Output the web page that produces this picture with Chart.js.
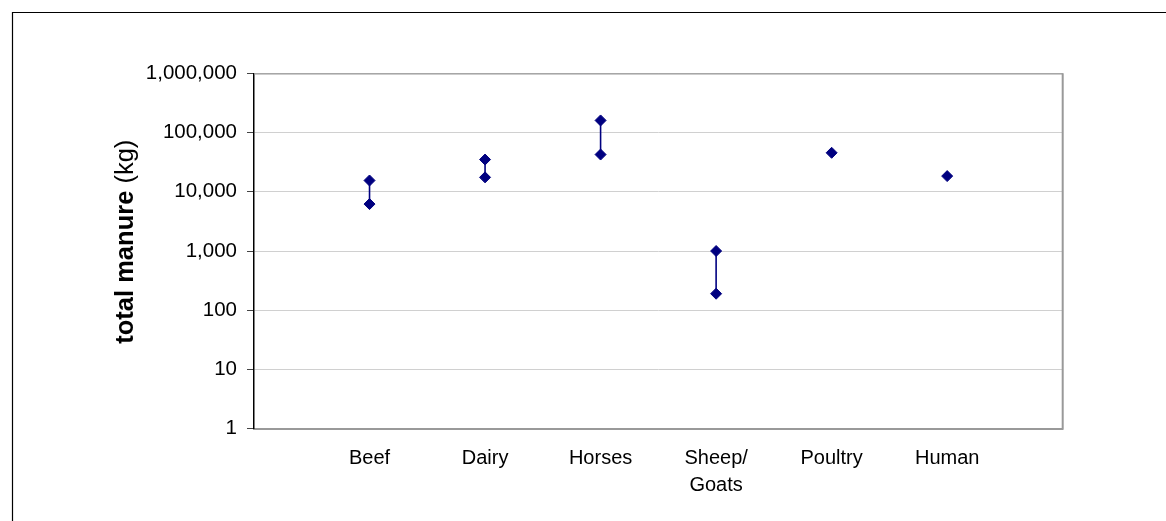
<!DOCTYPE html>
<html>
<head>
<meta charset="utf-8">
<script src="https://cdn.jsdelivr.net/npm/chart.js@4/dist/chart.umd.min.js"></script>
<style>
  html, body { margin: 0; padding: 0; background: #fff; }
  #wrap { width: 1166px; height: 521px; position: relative; }
</style>
</head>
<body>
<div id="wrap"><canvas id="chart"></canvas></div>
<script>
// Manure production per animal type: high and low estimates (kg)
const categories = ['Beef', 'Dairy', 'Horses', 'Sheep/Goats', 'Poultry', 'Human'];
const highValues = [15500, 35000, 160000, 1000, 45500, 18400];
const lowValues  = [6200, 17500, 42500, 190, null, null];
const yTickValues = [1, 10, 100, 1000, 10000, 100000, 1000000];
const yTitleBold = 'total manure ';
const yTitleUnit = '(kg)';

const NAVY = '#000080';
const FONT = '"Liberation Sans", Arial, sans-serif';

Chart.defaults.color = '#000';
Chart.defaults.font.family = FONT;

// Vertical range lines joining each high/low pair
const rangeSets = [];
categories.forEach((c, i) => {
  if (lowValues[i] !== null && highValues[i] !== null) {
    rangeSets.push({
      type: 'line',
      label: c + ' range',
      data: [{ x: i + 1, y: highValues[i] }, { x: i + 1, y: lowValues[i] }],
      borderColor: NAVY,
      borderWidth: 1.6,
      pointRadius: 0,
      order: 2
    });
  }
});

const pointStyleOpts = {
  pointStyle: 'rectRot',
  pointRadius: 5.5,
  pointHoverRadius: 5.5,
  pointBackgroundColor: NAVY,
  pointBorderColor: NAVY,
  pointBorderWidth: 1,
  showLine: false,
  order: 1
};

const highSet = Object.assign({
  type: 'scatter',
  label: 'High',
  data: highValues.map((v, i) => ({ x: i + 1, y: v })).filter(p => p.y !== null)
}, pointStyleOpts);

const lowSet = Object.assign({
  type: 'scatter',
  label: 'Low',
  data: lowValues.map((v, i) => ({ x: i + 1, y: v })).filter(p => p.y !== null)
}, pointStyleOpts);

// Frame, plot-area border and the two-weight axis title
const decorations = {
  id: 'decorations',
  beforeDatasetsDraw(chart) {
    const { ctx, chartArea: a } = chart;
    ctx.save();
    ctx.strokeStyle = '#999';
    ctx.lineWidth = 1.2;
    ctx.beginPath();
    ctx.moveTo(a.left, a.top + 0.5);
    ctx.lineTo(a.right, a.top + 0.5);
    ctx.stroke();
    ctx.lineWidth = 2;
    ctx.beginPath();
    ctx.moveTo(a.right, a.top);
    ctx.lineTo(a.right, a.bottom + 1);
    ctx.stroke();
    ctx.restore();
  },
  afterDraw(chart) {
    const { ctx } = chart;
    ctx.save();
    ctx.strokeStyle = '#000';
    ctx.lineWidth = 1.2;
    ctx.beginPath();
    ctx.moveTo(12.5, chart.height);
    ctx.lineTo(12.5, 12.5);
    ctx.lineTo(chart.width, 12.5);
    ctx.stroke();

    ctx.translate(132.5, 241.7);
    ctx.rotate(-Math.PI / 2);
    ctx.fillStyle = '#000';
    ctx.textBaseline = 'alphabetic';
    ctx.textAlign = 'left';
    const boldFont = 'bold 25.5px ' + FONT;
    const normFont = '25.5px ' + FONT;
    ctx.font = boldFont;
    const wb = ctx.measureText(yTitleBold).width;
    ctx.font = normFont;
    const wn = ctx.measureText(yTitleUnit).width;
    const x0 = -(wb + wn) / 2;
    ctx.font = boldFont;
    ctx.fillText(yTitleBold, x0, 0);
    ctx.font = normFont;
    ctx.fillText(yTitleUnit, x0 + wb, 0);
    ctx.restore();
  }
};

new Chart(document.getElementById('chart'), {
  type: 'scatter',
  data: { datasets: [highSet, lowSet, ...rangeSets] },
  options: {
    responsive: true,
    maintainAspectRatio: false,
    devicePixelRatio: 1,
    animation: false,
    layout: { padding: { top: 73.3, right: 103.3, left: 0, bottom: 0 } },
    plugins: {
      legend: { display: false },
      tooltip: { enabled: false }
    },
    scales: {
      x: {
        type: 'linear',
        min: 0,
        max: 7,
        afterBuildTicks(scale) {
          scale.ticks = categories.map((c, i) => ({ value: i + 1 }));
        },
        afterFit(scale) { scale.height = 92.3; },
        grid: { display: false, drawTicks: false },
        border: { display: true, color: '#999', width: 2 },
        ticks: {
          autoSkip: false,
          maxRotation: 0,
          minRotation: 0,
          padding: 16,
          font: { size: 20, lineHeight: 1.37 },
          callback(v) {
            const name = categories[Math.round(v) - 1];
            if (!name) return '';
            const k = name.indexOf('/');
            return k >= 0 ? [name.slice(0, k + 1), name.slice(k + 1)] : name;
          }
        }
      },
      y: {
        type: 'logarithmic',
        min: 1,
        max: 1000000,
        afterBuildTicks(scale) {
          scale.ticks = yTickValues.map(v => ({ value: v }));
        },
        afterFit(scale) { scale.width = 254; },
        grid: { color: '#d0d0d0', lineWidth: 1, tickColor: '#444', tickLength: 7 },
        border: { display: true, color: '#000', width: 1.5 },
        ticks: {
          padding: 10,
          font: { size: 20.5 },
          callback(v) { return Number(v).toLocaleString('en-US'); }
        }
      }
    }
  },
  plugins: [decorations]
});
</script>
</body>
</html>
